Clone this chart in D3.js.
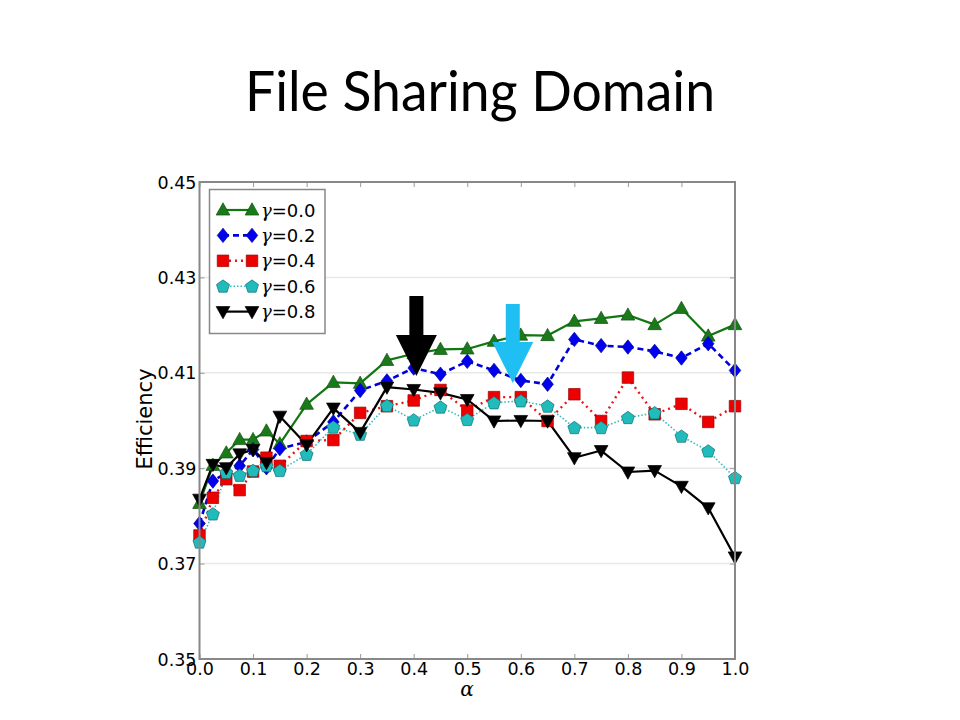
<!DOCTYPE html>
<html>
<head>
<meta charset="utf-8">
<script src="https://cdn.jsdelivr.net/npm/d3@7"></script>
<style>
  html, body { margin: 0; padding: 0; background: #fff; }
  svg { display: block; }
</style>
</head>
<body>
<svg id="chart" width="960" height="720"></svg>
<script>
// ---- Data ----
const alphas = [0, 0.025, 0.05, 0.075, 0.1, 0.125, 0.15, 0.2, 0.25, 0.3, 0.35, 0.4, 0.45, 0.5, 0.55, 0.6, 0.65, 0.7, 0.75, 0.8, 0.85, 0.9, 0.95, 1.0];
const gamma00 = [0.3826, 0.3906, 0.3932, 0.3960, 0.3960, 0.3978, 0.3951, 0.4034, 0.4080, 0.4078, 0.4126, 0.4140, 0.4149, 0.4150, 0.4166, 0.4179, 0.4178, 0.4208, 0.4214, 0.4221, 0.4201, 0.4235, 0.4177, 0.4201];
const gamma02 = [0.3784, 0.3873, 0.3890, 0.3905, 0.3939, 0.3901, 0.3941, 0.3955, 0.3997, 0.4063, 0.4083, 0.4110, 0.4097, 0.4124, 0.4105, 0.4084, 0.4076, 0.4170, 0.4157, 0.4154, 0.4145, 0.4131, 0.4161, 0.4105];
const gamma04 = [0.3759, 0.3838, 0.3877, 0.3854, 0.3893, 0.3922, 0.3905, 0.3957, 0.3959, 0.4016, 0.4030, 0.4042, 0.4064, 0.4021, 0.4049, 0.4049, 0.3999, 0.4055, 0.3999, 0.4090, 0.4013, 0.4035, 0.3997, 0.4030];
const gamma06 = [0.3745, 0.3804, 0.3891, 0.3885, 0.3895, 0.3905, 0.3895, 0.3929, 0.3986, 0.3971, 0.4031, 0.4001, 0.4028, 0.4002, 0.4037, 0.4041, 0.4030, 0.3985, 0.3985, 0.4006, 0.4016, 0.3967, 0.3936, 0.3880];
const gamma08 = [0.3835, 0.3908, 0.3901, 0.3930, 0.3939, 0.3912, 0.4009, 0.3949, 0.4026, 0.3975, 0.4070, 0.4065, 0.4058, 0.4044, 0.3999, 0.4000, 0.3999, 0.3922, 0.3937, 0.3892, 0.3895, 0.3862, 0.3817, 0.3714];
const seriesLabels = ["0.0", "0.2", "0.4", "0.6", "0.8"];
const xTicks = [0.0, 0.1, 0.2, 0.3, 0.4, 0.5, 0.6, 0.7, 0.8, 0.9, 1.0];
const yTicks = [0.35, 0.37, 0.39, 0.41, 0.43, 0.45];
const arrowAlphas = [0.405, 0.585];   // annotation arrows (alpha positions)
const titleText = "File Sharing Domain";
const yLabel = "Efficiency";
const xLabel = "α";

// ---- Styles ----
const styles = [
  {color: "#117711", fill: "#1a7a1a", dash: null, width: 2.2, marker: "triangle"},
  {color: "#0000dd", fill: "#0000ee", dash: "6,4", width: 2.6, marker: "diamond"},
  {color: "#ee1111", fill: "#ee0000", dash: "2,4", width: 2.4, marker: "square"},
  {color: "#33bbbb", fill: "#22bbbb", dash: "1.5,2", width: 1.6, marker: "pentagon"},
  {color: "#000000", fill: "#000000", dash: null, width: 2.2, marker: "triangledown"}
];
const allSeries = [gamma00, gamma02, gamma04, gamma06, gamma08];

const svg = d3.select("#chart");
const L = 199.5, R = 735, T = 182, B = 659;
const x = d3.scaleLinear().domain([0, 1]).range([L, R]);
const y = d3.scaleLinear().domain([0.35, 0.45]).range([B, T]);

// Title
const title = svg.append("text")
  .attr("x", 480).attr("y", 111)
  .attr("text-anchor", "middle")
  .attr("font-family", "Lato, 'Open Sans', sans-serif")
  .attr("font-size", 57)
  .attr("fill", "#000")
  .text(titleText);
title.attr("textLength", 470).attr("lengthAdjust", "spacingAndGlyphs");

// Grid
svg.append("g").selectAll("line").data(yTicks.slice(1, -1)).join("line")
  .attr("x1", L).attr("x2", R)
  .attr("y1", d => y(d)).attr("y2", d => y(d))
  .attr("stroke", "#e8e8e8").attr("stroke-width", 1.5);

// Axes with D3 axis generators (ticks inside)
const tickFmt = d3.format(".2f");
const axisFont = "'DejaVu Sans', sans-serif";
const gLeft = svg.append("g").attr("transform", `translate(${L},0)`)
  .call(d3.axisLeft(y).tickValues(yTicks).tickFormat(tickFmt).tickSizeInner(-5).tickSizeOuter(0).tickPadding(3));
const gRight = svg.append("g").attr("transform", `translate(${R},0)`)
  .call(d3.axisRight(y).tickValues(yTicks).tickFormat("").tickSizeInner(-5).tickSizeOuter(0));
const gBottom = svg.append("g").attr("transform", `translate(0,${B})`)
  .call(d3.axisBottom(x).tickValues(xTicks).tickFormat(d3.format(".1f")).tickSizeInner(-5).tickSizeOuter(0).tickPadding(1));
const gTop = svg.append("g").attr("transform", `translate(0,${T})`)
  .call(d3.axisTop(x).tickValues(xTicks).tickFormat("").tickSizeInner(-5).tickSizeOuter(0));
[gLeft, gRight, gBottom, gTop].forEach(g => {
  g.select(".domain").remove();
  g.selectAll(".tick line").attr("stroke", "#999").attr("stroke-width", 1);
  g.selectAll("text").attr("font-family", axisFont).attr("font-size", 17.5).attr("fill", "#000");
});
gBottom.selectAll("text").attr("dy", "0.88em");
gLeft.selectAll("text").attr("dy", "0.35em");

// Series lines
const line = d3.line().x((d, i) => x(alphas[i])).y(d => y(d));
const plot = svg.append("g");
allSeries.forEach((vals, k) => {
  const s = styles[k];
  plot.append("path").datum(vals)
    .attr("d", line)
    .attr("fill", "none")
    .attr("stroke", s.color)
    .attr("stroke-width", s.width)
    .attr("stroke-linejoin", "round")
    .attr("stroke-dasharray", s.dash);
});

function markerPath(type, size) {
  const r = size;
  switch (type) {
    case "triangle": return `M0,${-r}L${r*0.95},${r*0.7}L${-r*0.95},${r*0.7}Z`;
    case "triangledown": return `M0,${r}L${r*0.95},${-r*0.7}L${-r*0.95},${-r*0.7}Z`;
    case "diamond": return `M0,${-r}L${r*0.8},0L0,${r}L${-r*0.8},0Z`;
    case "square": { const h = r*0.8; return `M${-h},${-h}L${h},${-h}L${h},${h}L${-h},${h}Z`; }
    case "pentagon": {
      const pts = d3.range(5).map(i => { const a = -Math.PI/2 + i*2*Math.PI/5; return [r*0.95*Math.cos(a), r*0.95*Math.sin(a)+0.5]; });
      return "M" + pts.map(p => p.join(",")).join("L") + "Z";
    }
  }
}
const markerSize = 7.2;
const edge = k => k === 3 ? "#0e6e6e" : (k === 4 ? "#000" : d3.color(styles[k].fill).darker(1.2));
allSeries.forEach((vals, k) => {
  const s = styles[k];
  plot.append("g").selectAll("path").data(vals).join("path")
    .attr("transform", (d, i) => `translate(${x(alphas[i])},${y(d)})`)
    .attr("d", markerPath(s.marker, markerSize))
    .attr("fill", s.fill)
    .attr("stroke", edge(k))
    .attr("stroke-width", 0.7);
});

// Frame
svg.append("rect").attr("x", L).attr("y", T).attr("width", R - L).attr("height", B - T)
  .attr("fill", "none").attr("stroke", "#888").attr("stroke-width", 2);

// Arrows
const arrowColors = ["#000000", "#1fbff4"];
const arrowTops = [296, 304];
const arrowTips = [376, 383];
arrowAlphas.forEach((a, i) => {
  const cx = x(a), top = arrowTops[i], tip = arrowTips[i];
  const sw = 7, hw = 20.5, headH = 41;
  const p = `M${cx-sw},${top}L${cx+sw},${top}L${cx+sw},${tip-headH}L${cx+hw},${tip-headH}L${cx},${tip}L${cx-hw},${tip-headH}L${cx-sw},${tip-headH}Z`;
  svg.append("path").attr("d", p).attr("fill", arrowColors[i]);
});

// Legend
const lg = svg.append("g");
lg.append("rect").attr("x", 209.5).attr("y", 189.5).attr("width", 115.5).attr("height", 144)
  .attr("fill", "#fff").attr("stroke", "#888").attr("stroke-width", 1.5);
seriesLabels.forEach((lab, k) => {
  const s = styles[k];
  const ly = 210 + k * 25.4;
  lg.append("line").attr("x1", 223).attr("x2", 252).attr("y1", ly).attr("y2", ly)
    .attr("stroke", s.color).attr("stroke-width", s.width).attr("stroke-dasharray", s.dash);
  [223, 252].forEach(mx => {
    lg.append("path").attr("transform", `translate(${mx},${ly})`)
      .attr("d", markerPath(s.marker, markerSize))
      .attr("fill", s.fill)
      .attr("stroke", edge(k))
      .attr("stroke-width", 0.7);
  });
  const t = lg.append("text").attr("x", 261).attr("y", ly + 6.5)
    .attr("font-family", axisFont).attr("font-size", 18).attr("fill", "#000");
  t.append("tspan").attr("font-family", "'DejaVu Serif', serif").attr("font-style", "italic").text("γ");
  t.append("tspan").text("=" + lab);
});

// Axis labels
svg.append("text").attr("transform", `translate(152,419) rotate(-90)`)
  .attr("text-anchor", "middle").attr("font-family", axisFont).attr("font-size", 21).attr("fill", "#000")
  .text(yLabel);
svg.append("text").attr("x", 467).attr("y", 696)
  .attr("text-anchor", "middle").attr("font-family", "'DejaVu Serif', serif").attr("font-style", "italic")
  .attr("font-size", 20).attr("fill", "#000").text(xLabel);
</script>
</body>
</html>
